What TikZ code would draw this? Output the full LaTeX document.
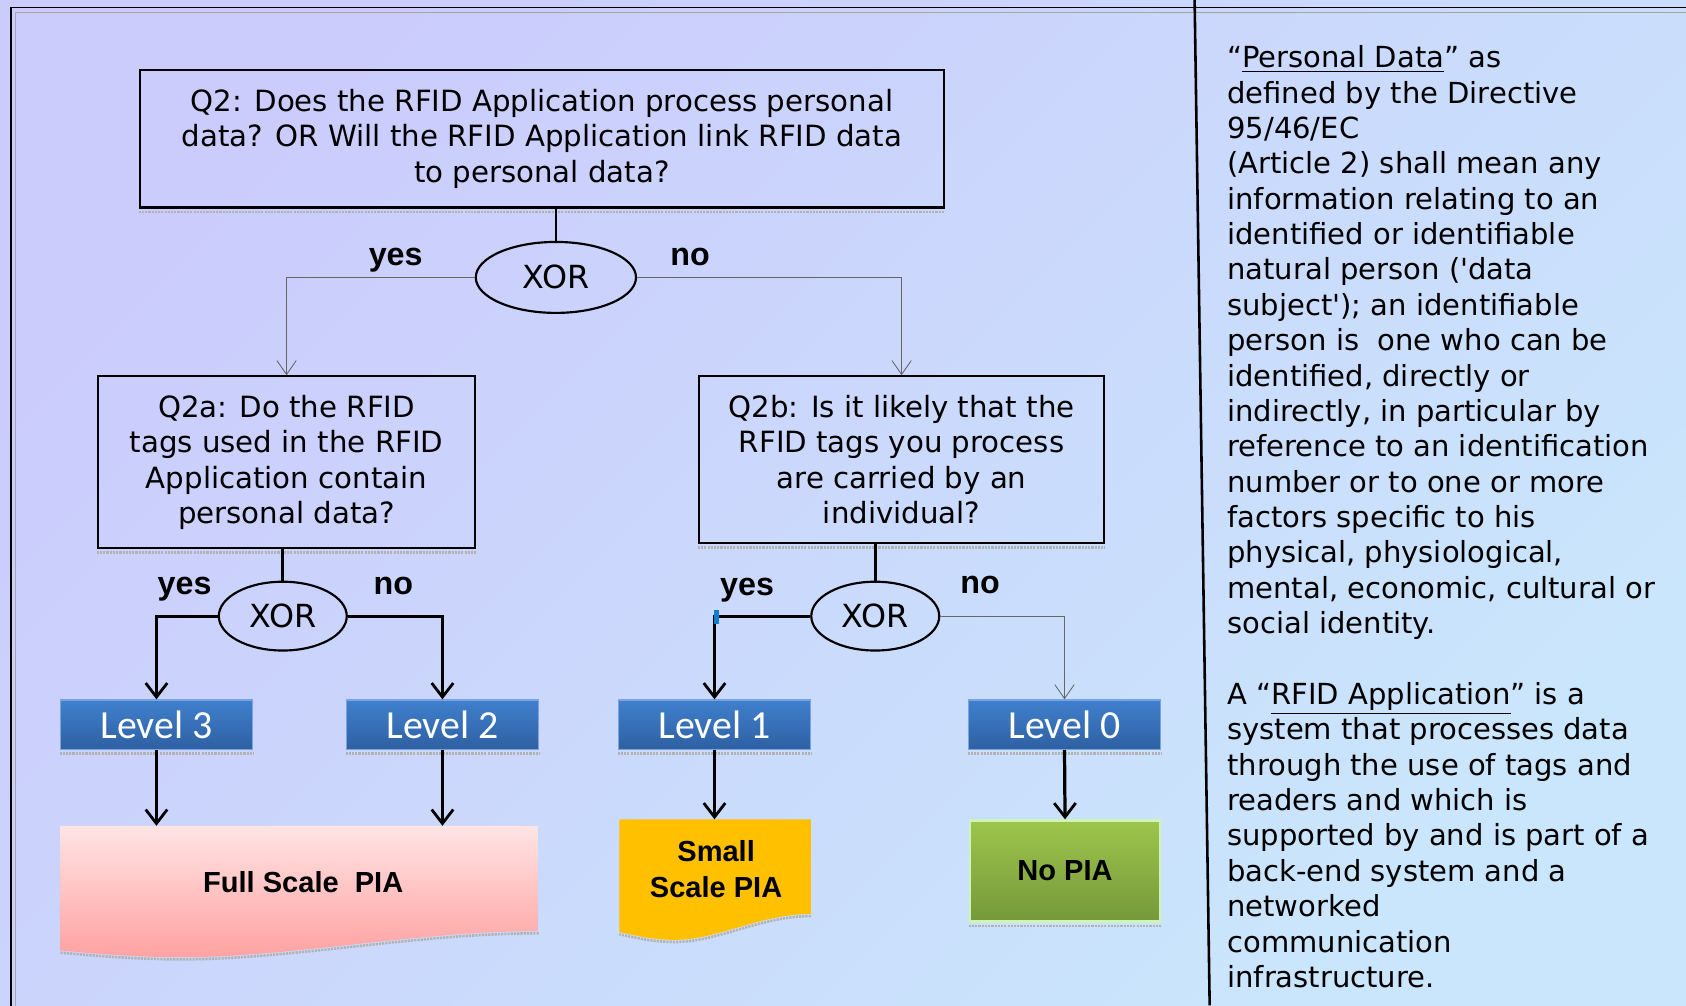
\documentclass[tikz,border=0pt]{standalone}
\usepackage{fontspec}
\setmainfont{DejaVu Sans}
\newfontfamily\arialfont{Liberation Sans}
\newfontfamily\calibrifont{Carlito}
\usetikzlibrary{shapes.geometric,arrows.meta}

\definecolor{bgLeft}{RGB}{203,204,252}
\definecolor{bgRight}{RGB}{202,230,252}
\definecolor{levelTop}{RGB}{64,128,205}
\definecolor{levelBot}{RGB}{46,96,162}
\definecolor{levelRim}{RGB}{120,165,225}
\definecolor{fullTop}{RGB}{255,228,228}
\definecolor{fullBot}{RGB}{255,160,160}
\definecolor{smallFill}{RGB}{255,192,0}
\definecolor{noTop}{RGB}{158,197,76}
\definecolor{noBot}{RGB}{118,152,58}
\definecolor{noRim}{RGB}{205,245,185}

\begin{document}
\begin{tikzpicture}[x=0.5pt,y=-0.5pt,
	question/.style={draw=black, line width=1pt, align=center, inner sep=0pt, font=\fontsize{13.6}{16.5}\selectfont},
	xorgate/.style={ellipse, draw=black, line width=1pt, minimum width=59.5pt, minimum height=32pt, inner sep=0pt, font=\fontsize{14.8}{16}\selectfont},
	level/.style={draw=levelRim, line width=0.6pt, top color=levelTop, bottom color=levelBot, text=white, minimum width=89.5pt, minimum height=23pt, inner sep=0pt, font=\calibrifont\fontsize{18.5}{20}\selectfont},
	result/.style={align=center, inner sep=0pt, font=\arialfont\bfseries\fontsize{13.5}{17}\selectfont},
	lab/.style={inner sep=1pt, text=black, font=\arialfont\bfseries\fontsize{15}{17}\selectfont},
	link/.style={black, line width=1.3pt},
	thickarrow/.style={black, line width=1.5pt, -{Straight Barb[length=6.5pt, width=10pt, line width=1.3pt]}},
	thinarrow/.style={gray!80!black, line width=0.4pt, -{Straight Barb[length=6.5pt, width=9pt]}},
	shadowline/.style={gray!60, line width=1.2pt, dash pattern=on 1pt off 0.5pt},
	deftext/.style={align=left, inner sep=0pt, font=\fontsize{13.5}{16.45}\selectfont}]
	\useasboundingbox (0,0) rectangle (1568,935);
	% Background and frame
	\shade[top color=bgLeft, bottom color=bgRight, shading angle=45] (0,0) rectangle (1568,935);
	\draw[black, line width=0.8pt] (10,950) -- (10,7) -- (1580,7);
	\draw[gray!70, line width=0.5pt] (14,950) -- (14,11.5) -- (1580,11.5);
	\draw[black, line width=1.2pt] (1111,0) -- (1125,935);

	% Questions
	\node[question, minimum width=374pt, minimum height=64pt] (q2) at (504,129) {Q2: Does the RFID Application process personal\\data? OR Will the RFID Application link RFID data\\to personal data?};
	\node[xorgate, minimum width=74.5pt, minimum height=33pt] (x1) at (517,258) {XOR};
	\node[question, minimum width=175.5pt, minimum height=80pt] (q2a) at (266.5,430) {Q2a: Do the RFID\\tags used in the RFID\\Application contain\\personal data?};
	\node[question, minimum width=188.5pt, minimum height=77.5pt] (q2b) at (838.5,427.5) {Q2b: Is it likely that the\\RFID tags you process\\are carried by an\\individual?};
	\node[xorgate] (x2) at (263,573) {XOR};
	\node[xorgate] (x3) at (814,573) {XOR};

	% Levels
	\node[level] (lv3) at (145.5,674) {Level 3};
	\node[level] (lv2) at (411.5,674) {Level 2};
	\node[level] (lv1) at (664.5,674) {Level 1};
	\node[level] (lv0) at (990,674) {Level 0};

	% Outcomes
	\shade[top color=fullTop, bottom color=fullBot] (56,768) -- (501,768) -- (501,866) .. controls (380,866) and (260,893) .. (150,890) .. controls (110,889) and (80,886) .. (56,884) -- cycle;
	\draw[shadowline] (501,868) .. controls (380,868) and (260,895) .. (150,892) .. controls (110,891) and (80,888) .. (56,886);
	\node[result, minimum width=222.5pt, minimum height=52pt, anchor=north] (full) at (282,768) {Full Scale\ \ PIA};
	\fill[smallFill] (576,762) -- (754,762) -- (754,850) .. controls (705,850) and (665,876) .. (622,874) .. controls (600,873) and (588,869) .. (576,867) -- cycle;
	\draw[shadowline] (754,852) .. controls (705,852) and (665,878) .. (622,876) .. controls (600,875) and (588,871) .. (576,869);
	\node[result, minimum width=89pt, minimum height=46pt, anchor=north] (small) at (666,762) {Small\\Scale PIA};
	\node[result, draw=noRim, line width=1pt, top color=noTop, bottom color=noBot, minimum width=88.5pt, minimum height=47pt] (nopia) at (990.5,810) {No PIA};
	\foreach \n in {q2,q2a,q2b,lv3,lv2,lv1,lv0,nopia}
		\draw[shadowline] ([yshift=-1.5pt]\n.south west) -- ([yshift=-1.5pt]\n.south east);

	% Connectors
	\draw[link] (x1.north |- q2.south) -- (x1.north);
	\draw[thinarrow] (x1.west) -| node[lab, pos=0.21, above=1pt] {yes} (q2a.north);
	\draw[thinarrow] (x1.east) -| node[lab, pos=0.1, above=4pt] {no} (q2b.north);
	\draw[link] (x2.north |- q2a.south) -- (x2.north);
	\draw[thickarrow] (x2.west) -| node[lab, pos=0.27, above=5pt] {yes} (lv3.north);
	\draw[thickarrow] (x2.east) -| node[lab, pos=0.24, above=8pt] {no} (lv2.north);
	\draw[link] (x3.north |- q2b.south) -- (x3.north);
	\draw[thickarrow] (x3.west) -| node[lab, pos=0.33, above=4.5pt] {yes} (lv1.north);
	\draw[thinarrow] (x3.east) -| node[lab, pos=0.16, above=9pt] {no} (lv0.north);
	\fill[cyan!60!blue] (664,567) rectangle (669,580);
	\draw[thickarrow] (lv3.south) -- (lv3.south |- full.north);
	\draw[thickarrow] (lv2.south) -- (lv2.south |- full.north);
	\draw[thickarrow] (lv1.south) -- (lv1.south |- small.north);
	\draw[thickarrow] (lv0.south) -- (nopia.north);

	% Definitions
	\node[deftext, anchor=north west] (def) at (1141,42) {“\underline{Personal Data}” as\\
		defined by the Directive\\
		95/46/EC\\
		(Article 2) shall mean any\\
		information relating to an\\
		identified or identifiable\\
		natural person (\textquotesingle data\\
		subject\textquotesingle); an identifiable\\
		person is\ \ one who can be\\
		identified, directly or\\
		indirectly, in particular by\\
		reference to an identification\\
		number or to one or more\\
		factors specific to his\\
		physical, physiological,\\
		mental, economic, cultural or\\
		social identity.\\[16.45pt]
		A “\underline{RFID Application}” is a\\
		system that processes data\\
		through the use of tags and\\
		readers and which is\\
		supported by and is part of a\\
		back-end system and a\\
		networked\\
		communication\\
		infrastructure.};
\end{tikzpicture}
\end{document}
